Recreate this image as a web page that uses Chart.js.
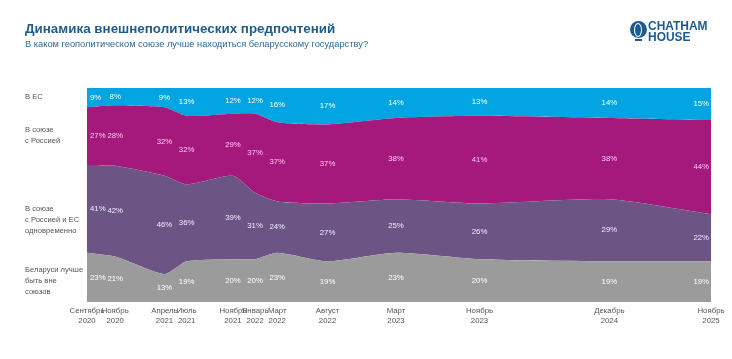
<!DOCTYPE html>
<html>
<head>
<meta charset="utf-8">
<script src="https://cdn.jsdelivr.net/npm/chart.js@4"></script>
<style>
  body { margin: 0; background: #fff; font-family: "Liberation Sans", Arial, sans-serif; }
  #wrap { position: relative; width: 732px; height: 359px; overflow: hidden; }
  #chart { position: absolute; left: 0; top: 0; }
  .title { position: absolute; left: 25px; top: 21px; font-size: 13.4px; font-weight: bold; color: #1f5c8c; white-space: nowrap; }
  .subtitle { position: absolute; left: 25px; top: 39px; font-size: 9.3px; color: #2d6a9c; white-space: nowrap; }
  .side { position: absolute; left: 25px; font-size: 7.6px; line-height: 11px; color: #555; white-space: nowrap; }
  .logo-text { position: absolute; left: 648px; top: 21px; font-size: 12.2px; line-height: 10.5px; font-weight: bold; color: #1e5a94;
               transform: scaleX(0.98); transform-origin: left top; white-space: nowrap; }
  .globe { position: absolute; left: 630px; top: 21px; width: 17px; height: 17px; border-radius: 50%; background: #1e5a94; }
  .globe:after { content: ""; position: absolute; left: 4px; top: 2px; width: 6px; height: 12px; border: 1.3px solid #fff; border-radius: 50%; }
  .stand { position: absolute; left: 635px; top: 39px; width: 7px; height: 2px; background: #1e5a94; }
</style>
</head>
<body>
<div id="wrap">
  <canvas id="chart" width="732" height="359"></canvas>
  <div class="title">Динамика внешнеполитических предпочтений</div>
  <div class="subtitle">В каком геополитическом союзе лучше находиться беларусскому государству?</div>
  <div class="globe"></div><div class="stand"></div>
  <div class="logo-text">CHATHAM<br>HOUSE</div>
  <div class="side" style="top:91px">В ЕС</div>
  <div class="side" style="top:124px">В союзе<br>с Россией</div>
  <div class="side" style="top:203px">В союзе<br>с Россией и ЕС<br>одновременно</div>
  <div class="side" style="top:264px">Беларуси лучше<br>быть вне<br>союзов</div>
</div>
<script>
// время опроса в месяцах от начала сентября 2020 (по положению на картинке)
const monthIdx = [0, 2.8, 7.7, 9.9, 14.5, 16.7, 18.9, 23.9, 30.7, 39.0, 51.9, 62];
const monthNames = ['Сентябрь', 'Ноябрь', 'Апрель', 'Июль', 'Ноябрь', 'Январь', 'Март', 'Август', 'Март', 'Ноябрь', 'Декабрь', 'Ноябрь'];
const years = ['2020', '2020', '2021', '2021', '2021', '2022', '2022', '2022', '2023', '2023', '2024', '2025'];

const outside = [23, 21, 13, 19, 20, 20, 23, 19, 23, 20, 19, 19];
const both = [41, 42, 46, 36, 39, 31, 24, 27, 25, 26, 29, 22];
const russia = [27, 28, 32, 32, 29, 37, 37, 37, 38, 41, 38, 44];
const eu = [9, 8, 9, 13, 12, 12, 16, 17, 14, 13, 14, 15];

const series = [
    { label: 'Беларуси лучше быть вне союзов', values: outside, color: '#9b9b9b', text: '#ffffff' },
    { label: 'В союзе с Россией и ЕС одновременно', values: both, color: '#6c5584', text: '#f3ecff' },
    { label: 'В союзе с Россией', values: russia, color: '#a5197c', text: '#ffc8f0' },
    { label: 'В ЕС', values: eu, color: '#02a5e2', text: '#ffffff' }
];

// суммы по точкам, чтобы нормировать до 100%
const totals = monthIdx.map((m, i) => series.reduce((s, d) => s + d.values[i], 0));

const labelsPlugin = {
    id: 'bandLabels',
    afterDatasetsDraw(chart) {
        const ctx = chart.ctx;
        const xs = chart.scales.x;
        const ys = chart.scales.y;
        ctx.save();
        ctx.font = '7.8px "Liberation Sans", Arial, sans-serif';
        ctx.textBaseline = 'middle';
        monthIdx.forEach((m, i) => {
            let cum = 0;
            const x = xs.getPixelForValue(m);
            series.forEach(s => {
                const v = s.values[i] / totals[i] * 100;
                const y = ys.getPixelForValue(cum + v / 2);
                cum += v;
                let tx = x;
                if (i === 0) { ctx.textAlign = 'left'; tx = x + 3; }
                else if (i === monthIdx.length - 1) { ctx.textAlign = 'right'; tx = x - 2; }
                else ctx.textAlign = 'center';
                ctx.fillStyle = s.text;
                ctx.fillText(s.values[i] + '%', tx, y);
            });
        });
        ctx.restore();
    }
};

new Chart(document.getElementById('chart'), {
    type: 'line',
    data: {
        datasets: series.map((s, k) => ({
            label: s.label,
            data: monthIdx.map((m, i) => ({ x: m, y: s.values[i] / totals[i] * 100 })),
            backgroundColor: s.color,
            borderColor: s.color,
            borderWidth: 0,
            pointRadius: 0,
            tension: 0.2,
            fill: k === 0 ? 'origin' : '-1'
        }))
    },
    options: {
        responsive: false,
        animation: false,
        layout: { padding: { left: 87, right: 21, top: 88, bottom: 0 } },
        plugins: { legend: { display: false }, tooltip: { enabled: false } },
        scales: {
            x: {
                type: 'linear',
                min: 0,
                max: 62,
                grid: { display: false, drawTicks: false },
                border: { display: false },
                afterBuildTicks(scale) {
                    scale.ticks = monthIdx.map(v => ({ value: v }));
                },
                afterFit(scale) { scale.height = 57; },
                ticks: {
                    autoSkip: false,
                    maxRotation: 0,
                    padding: 4,
                    color: '#555',
                    font: { size: 7.8, family: '"Liberation Sans", Arial, sans-serif', lineHeight: 1.3 },
                    callback(value) {
                        const i = monthIdx.indexOf(value);
                        return i < 0 ? '' : [monthNames[i], years[i]];
                    }
                }
            },
            y: {
                stacked: true,
                min: 0,
                max: 100,
                display: false
            }
        }
    },
    plugins: [labelsPlugin]
});
</script>
</body>
</html>
